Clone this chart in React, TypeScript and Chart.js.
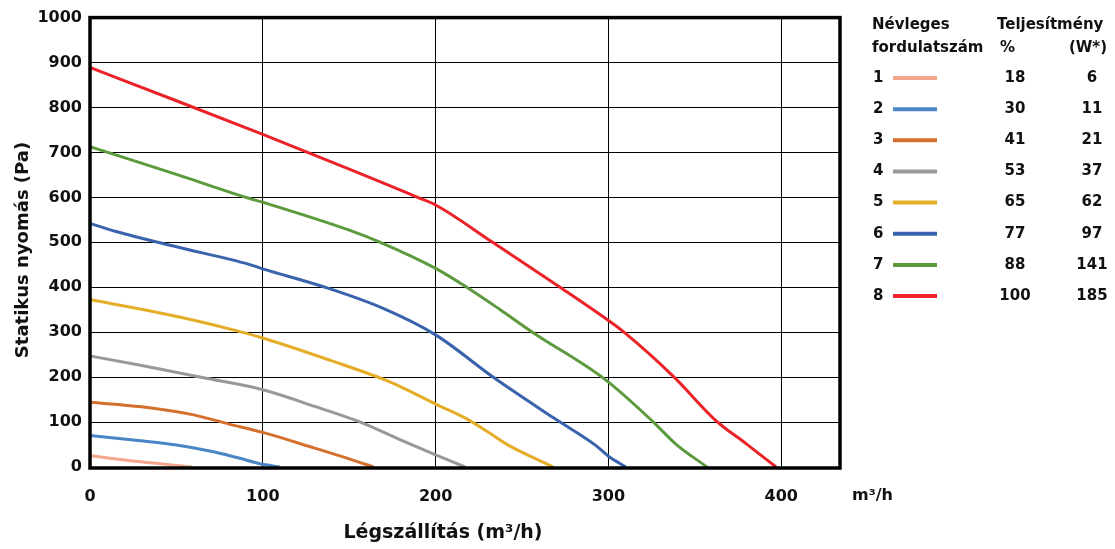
import { useEffect, useRef } from 'react';
import { Chart, registerables } from 'chart.js';

Chart.register(...registerables);

const FONT = '"DejaVu Sans", "Liberation Sans", sans-serif';

// Legend table data
const speedLabels = ['1', '2', '3', '4', '5', '6', '7', '8'];
const powerPercent = ['18', '30', '41', '53', '65', '77', '88', '100'];
const powerWatts = ['6', '11', '21', '37', '62', '97', '141', '185'];

// Axis ticks
const xTicks = [0, 100, 200, 300, 400];
const xMax = 434;
const yMax = 1000;

// Curves: airflow (m3/h) vs static pressure (Pa)
const s1X = [0, 28, 59];
const s1Y = [25, 12, 0];
const s2X = [0, 25, 50, 70, 85, 100, 110];
const s2Y = [70, 60, 49, 35, 21, 6, 0];
const s3X = [0, 30, 60, 80, 100, 130, 150, 164];
const s3Y = [144, 134, 116, 96, 77, 42, 18, 0];
const s4X = [0, 30, 65, 100, 130, 155, 180, 200, 217];
const s4Y = [247, 226, 199, 172, 135, 102, 60, 27, 0];
const s5X = [0, 55, 84, 100, 140, 170, 179, 200, 218, 231, 241, 268];
const s5Y = [373, 331, 304, 287, 236, 195, 180, 140, 107, 76, 51, 0];
const s6X = [0, 15, 50, 92, 100, 136, 169, 200, 234, 268, 293, 300, 310];
const s6Y = [542, 524, 490, 451, 441, 400, 354, 294, 198, 110, 47, 24, 0];
const s7X = [0, 50, 92, 100, 150, 168, 200, 218, 237, 256, 298, 326, 339, 357];
const s7Y = [713, 651, 598, 589, 527, 500, 442, 400, 351, 300, 195, 100, 51, 0];
const s8X = [0, 50, 100, 150, 191, 200, 233, 272, 300, 309, 338, 362, 380, 397];
const s8Y = [889, 815, 740, 663, 598, 583, 500, 400, 326, 300, 200, 104, 51, 0];

const seriesX = [s1X, s2X, s3X, s4X, s5X, s6X, s7X, s8X];
const seriesY = [s1Y, s2Y, s3Y, s4Y, s5Y, s6Y, s7Y, s8Y];
const colors = ['#F3A68B', '#4A86C5', '#D4702D', '#989898', '#E5AD27', '#3A63AD', '#5D9A3D', '#EB2328'];

const yTitle = 'Statikus nyomás (Pa)';
const xTitle = 'Légszállítás (m³/h)';
const xUnit = 'm³/h';

const overlayPlugin = {
  id: 'overlay',
  afterDatasetsDraw(chart: any) {
    const { ctx, chartArea } = chart;
    const { left, right, top, bottom } = chartArea;
    ctx.save();
    // Frame
    ctx.strokeStyle = '#000';
    ctx.lineWidth = 3.5;
    ctx.strokeRect(left, top, right - left, bottom - top + 1);

    ctx.fillStyle = '#111';
    // Y title
    ctx.save();
    ctx.translate(23, 250);
    ctx.rotate(-Math.PI / 2);
    ctx.font = `bold 18px ${FONT}`;
    ctx.textAlign = 'center';
    ctx.textBaseline = 'middle';
    ctx.fillText(yTitle, 0, 0);
    ctx.restore();

    // X title
    ctx.font = `bold 19px ${FONT}`;
    ctx.textAlign = 'center';
    ctx.textBaseline = 'middle';
    ctx.fillText(xTitle, 443, 533);

    // Unit
    ctx.font = `bold 16px ${FONT}`;
    ctx.textAlign = 'left';
    ctx.fillText(xUnit, 852, 496);

    // Legend table
    ctx.font = `bold 15px ${FONT}`;
    ctx.textAlign = 'left';
    ctx.fillText('Névleges', 872, 25);
    ctx.fillText('fordulatszám', 872, 48);
    ctx.fillText('Teljesítmény', 997, 25);
    ctx.fillText('%', 1000, 48);
    ctx.textAlign = 'right';
    ctx.fillText('(W*)', 1107, 48);

    for (let i = 0; i < speedLabels.length; i++) {
      const y = 78 + i * 31.15;
      ctx.textAlign = 'left';
      ctx.fillStyle = '#111';
      ctx.fillText(speedLabels[i], 873, y);
      ctx.textAlign = 'center';
      ctx.fillText(powerPercent[i], 1015, y);
      ctx.fillText(powerWatts[i], 1092, y);
      ctx.strokeStyle = colors[i];
      ctx.lineWidth = 4;
      ctx.beginPath();
      ctx.moveTo(893, y);
      ctx.lineTo(937, y);
      ctx.stroke();
    }
    ctx.restore();
  },
};

export default function App() {
  const ref = useRef<HTMLCanvasElement>(null);
  useEffect(() => {
    const datasets = seriesX.map((xs, i) => ({
      label: speedLabels[i],
      data: xs.map((x, j) => ({ x, y: seriesY[i][j] })),
      borderColor: colors[i],
      backgroundColor: colors[i],
      borderWidth: 3,
      pointRadius: 0,
      cubicInterpolationMode: 'monotone' as const,
      fill: false,
    }));
    const chart = new Chart(ref.current!, {
      type: 'line',
      data: { datasets },
      plugins: [overlayPlugin],
      options: {
        animation: false,
        responsive: false,
        devicePixelRatio: 1,
        layout: { padding: { top: 16, right: 275, left: 0, bottom: 0 } },
        plugins: { legend: { display: false }, tooltip: { enabled: false } },
        scales: {
          x: {
            type: 'linear',
            min: 0,
            max: xMax,
            afterFit: (s: any) => {
              s.height = 82;
            },
            afterBuildTicks: (s: any) => {
              s.ticks = xTicks.map((v) => ({ value: v }));
            },
            ticks: {
              color: '#111',
              font: { family: FONT, weight: 'bold', size: 16 },
              padding: 20,
              maxRotation: 0,
              callback: (v: any) => String(v),
            },
            grid: { color: '#000', lineWidth: 1, drawTicks: false },
            border: { display: false },
          },
          y: {
            type: 'linear',
            min: 0,
            max: yMax,
            afterFit: (s: any) => {
              s.width = 90;
            },
            ticks: {
              stepSize: 100,
              color: '#111',
              font: { family: FONT, weight: 'bold', size: 16 },
              padding: 8,
              callback: (v: any) => String(v),
            },
            grid: { color: '#000', lineWidth: 1, drawTicks: false },
            border: { display: false },
          },
        },
      },
    });
    return () => chart.destroy();
  }, []);
  return (
    <div style={{ position: 'absolute', left: 0, top: 0, width: 1115, height: 549, background: '#fff' }}>
      <canvas ref={ref} width={1115} height={549} style={{ display: 'block', width: 1115, height: 549 }} />
    </div>
  );
}
